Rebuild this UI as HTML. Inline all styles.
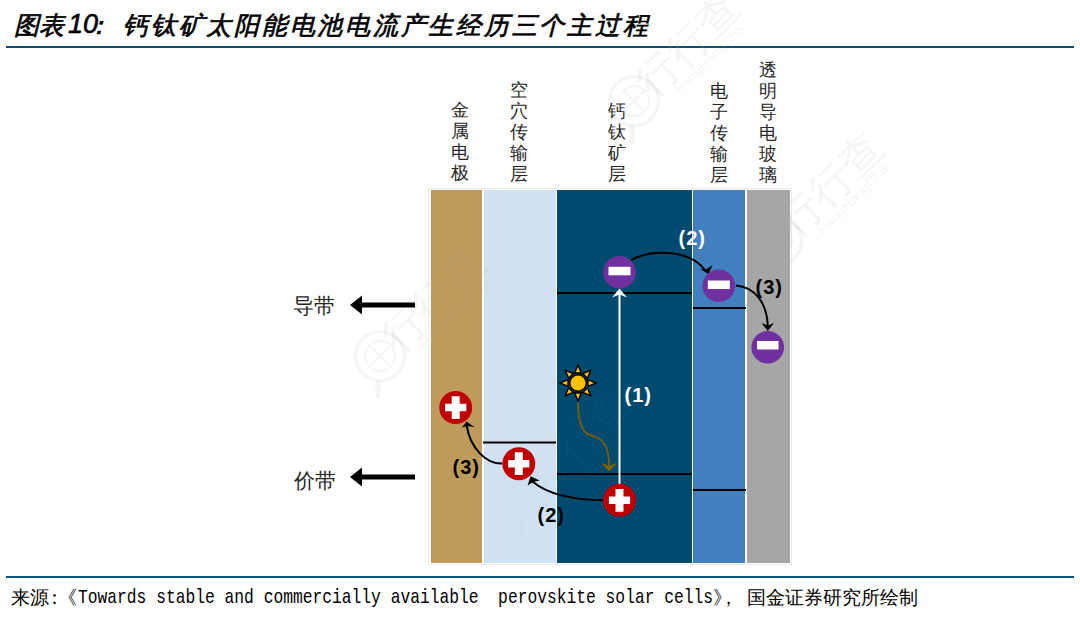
<!DOCTYPE html>
<html><head><meta charset="utf-8">
<style>
html,body{margin:0;padding:0;background:#fff;width:1080px;height:617px;overflow:hidden;position:relative;font-family:"Liberation Sans",sans-serif;}
.abs{position:absolute;white-space:nowrap;}
.tt{font-size:25px;font-weight:bold;font-style:italic;color:#000;line-height:30px;}
.hl{position:absolute;left:6px;width:1068px;height:2px;}
.ft{font-size:19px;color:#000;line-height:22px;}
.mono{white-space:pre;font-family:"Liberation Mono",monospace;font-size:20.7px;transform:scaleX(0.787);transform-origin:0 0;}
.vl{position:absolute;width:20px;font-size:18px;line-height:21px;color:#262626;text-align:center;}
.lbl{position:absolute;font-size:21px;color:#262626;white-space:nowrap;line-height:22px;}
.num{position:absolute;font-weight:bold;font-size:20px;letter-spacing:1px;white-space:nowrap;line-height:22px;}
</style></head><body>
<div class="abs tt" style="left:14px;top:10px;letter-spacing:0px;font-weight:normal;-webkit-text-stroke:0.7px #000">图表</div>
<div class="abs tt" style="left:68px;top:9px;font-weight:normal;font-size:27px;-webkit-text-stroke:0.6px #000">10</div>
<div class="abs tt" style="left:86px;top:10px;font-weight:normal;-webkit-text-stroke:0.7px #000">：</div>
<div class="abs tt" style="left:123px;top:10px;letter-spacing:2.75px;font-weight:normal;-webkit-text-stroke:0.7px #000">钙钛矿太阳能电池电流产生经历三个主过程</div>
<div class="hl" style="top:46px;background:#0D4E79"></div>
<div class="hl" style="top:576px;background:#14557F"></div>

<div class="vl" style="left:450px;top:100px">金<br>属<br>电<br>极</div>
<div class="vl" style="left:509px;top:80px">空<br>穴<br>传<br>输<br>层</div>
<div class="vl" style="left:607px;top:101px">钙<br>钛<br>矿<br>层</div>
<div class="vl" style="left:709px;top:81px">电<br>子<br>传<br>输<br>层</div>
<div class="vl" style="left:758px;top:60px">透<br>明<br>导<br>电<br>玻<br>璃</div>

<div class="lbl" style="left:293px;top:295px">导带</div>
<div class="lbl" style="left:294px;top:469.5px">价带</div>

<svg class="abs" style="left:0;top:0" width="1080" height="617" viewBox="0 0 1080 617">
  <rect x="428.5" y="188.5" width="363" height="376" fill="#fff" stroke="#ececec" stroke-width="1"/>
  <rect x="431" y="190" width="51" height="373" fill="#BE9B5A"/>
  <rect x="484" y="190" width="72" height="373" fill="#D0E2F2"/>
  <rect x="557" y="190" width="135" height="373" fill="#004A70"/>
  <rect x="693" y="190" width="52" height="373" fill="#417FBE"/>
  <rect x="747" y="190" width="43" height="373" fill="#A6A6A6"/>
  <!-- watermarks -->
  <g fill="none" stroke="rgb(170,170,170)" stroke-opacity="0.13"><g>
      <circle cx="634" cy="101" r="24.5" stroke-width="3"/>
      <circle cx="634" cy="101" r="15" stroke-width="2"/>
      <path d="M624,91 L644,111 M644,91 L624,111" stroke-width="2"/>
      <line x1="632" y1="128" x2="632" y2="141" stroke-width="5" stroke-linecap="round"/>
      <text x="0" y="0" transform="translate(690,47) rotate(-45)" text-anchor="middle" dominant-baseline="middle" font-size="42" fill="rgb(170,170,170)" fill-opacity="0.13" stroke="none" font-family="Liberation Sans, sans-serif">行行查</text>
      <text x="0" y="0" transform="translate(710,60) rotate(-45)" text-anchor="middle" dominant-baseline="middle" font-size="14" fill="rgb(170,170,170)" fill-opacity="0.13" stroke="none" font-family="Liberation Sans, sans-serif">HangHangCha</text>
    </g></g>
  <g fill="none" stroke="rgb(170,170,170)" stroke-opacity="0.13"><g transform="translate(143,140)">
      <circle cx="634" cy="101" r="24.5" stroke-width="3"/>
      <circle cx="634" cy="101" r="15" stroke-width="2"/>
      <path d="M624,91 L644,111 M644,91 L624,111" stroke-width="2"/>
      <line x1="632" y1="128" x2="632" y2="141" stroke-width="5" stroke-linecap="round"/>
      <text x="0" y="0" transform="translate(690,47) rotate(-45)" text-anchor="middle" dominant-baseline="middle" font-size="42" fill="rgb(170,170,170)" fill-opacity="0.13" stroke="none" font-family="Liberation Sans, sans-serif">行行查</text>
      <text x="0" y="0" transform="translate(710,60) rotate(-45)" text-anchor="middle" dominant-baseline="middle" font-size="14" fill="rgb(170,170,170)" fill-opacity="0.13" stroke="none" font-family="Liberation Sans, sans-serif">HangHangCha</text>
    </g></g>
  <g fill="none" stroke="rgb(170,170,170)" stroke-opacity="0.13"><g transform="translate(-254,255)">
      <circle cx="634" cy="101" r="24.5" stroke-width="3"/>
      <circle cx="634" cy="101" r="15" stroke-width="2"/>
      <path d="M624,91 L644,111 M644,91 L624,111" stroke-width="2"/>
      <line x1="632" y1="128" x2="632" y2="141" stroke-width="5" stroke-linecap="round"/>
      <text x="0" y="0" transform="translate(690,47) rotate(-45)" text-anchor="middle" dominant-baseline="middle" font-size="42" fill="rgb(170,170,170)" fill-opacity="0.13" stroke="none" font-family="Liberation Sans, sans-serif">行行查</text>
      <text x="0" y="0" transform="translate(710,60) rotate(-45)" text-anchor="middle" dominant-baseline="middle" font-size="14" fill="rgb(170,170,170)" fill-opacity="0.13" stroke="none" font-family="Liberation Sans, sans-serif">HangHangCha</text>
    </g></g>
  <g fill="none" stroke="rgb(170,170,170)" stroke-opacity="0.13"><g transform="translate(-111,395)" opacity="0.25">
      <circle cx="634" cy="101" r="24.5" stroke-width="3"/>
      <circle cx="634" cy="101" r="15" stroke-width="2"/>
      <path d="M624,91 L644,111 M644,91 L624,111" stroke-width="2"/>
      <line x1="632" y1="128" x2="632" y2="141" stroke-width="5" stroke-linecap="round"/>
      <text x="0" y="0" transform="translate(690,47) rotate(-45)" text-anchor="middle" dominant-baseline="middle" font-size="42" fill="rgb(170,170,170)" fill-opacity="0.13" stroke="none" font-family="Liberation Sans, sans-serif">行行查</text>
      <text x="0" y="0" transform="translate(710,60) rotate(-45)" text-anchor="middle" dominant-baseline="middle" font-size="14" fill="rgb(170,170,170)" fill-opacity="0.13" stroke="none" font-family="Liberation Sans, sans-serif">HangHangCha</text>
    </g></g>
  <g stroke="#000" stroke-width="2.2">
    <line x1="557" y1="293" x2="692" y2="293"/>
    <line x1="693" y1="308" x2="746" y2="308"/>
    <line x1="483" y1="442.5" x2="556" y2="442.5"/>
    <line x1="557" y1="474" x2="692" y2="474"/>
    <line x1="693" y1="490" x2="746" y2="490"/>
  </g>
  <polygon points="350,305 362,295.5 362,302.5 415,302.5 415,307.5 362,307.5 362,314.5" fill="#000"/>
  <polygon points="350,477 362,467.5 362,474.5 415,474.5 415,479.5 362,479.5 362,486.5" fill="#000"/>
  <!-- white arrow (1) -->
  <line x1="619.5" y1="484" x2="619.5" y2="294" stroke="#fff" stroke-width="2"/>
  <polygon points="619.5,288.5 612,297.5 619.5,294.5 627,297.5" fill="#fff"/>
  <!-- sun -->
  <g transform="translate(578,383)" fill="#FFC000" stroke="#000" stroke-width="1.4" stroke-linejoin="miter">
    <polygon transform="rotate(0)" points="0,-18 3.3,-10 -3.3,-10"/>
    <polygon transform="rotate(45)" points="0,-18 3.3,-10 -3.3,-10"/>
    <polygon transform="rotate(90)" points="0,-18 3.3,-10 -3.3,-10"/>
    <polygon transform="rotate(135)" points="0,-18 3.3,-10 -3.3,-10"/>
    <polygon transform="rotate(180)" points="0,-18 3.3,-10 -3.3,-10"/>
    <polygon transform="rotate(225)" points="0,-18 3.3,-10 -3.3,-10"/>
    <polygon transform="rotate(270)" points="0,-18 3.3,-10 -3.3,-10"/>
    <polygon transform="rotate(315)" points="0,-18 3.3,-10 -3.3,-10"/>
    <circle r="8.3"/>
  </g>
  <!-- olive curve -->
  <path d="M578,402 C578,425 583,434 593,436 C604,439 609,448 609.2,466" fill="none" stroke="#7F6000" stroke-width="1.8"/>
  <polygon points="609.2,471 602.2,463.5 609.2,466.5 616,463.5" fill="#7F6000" stroke="#7F6000" stroke-width="1"/>
  <!-- black arrows -->
  <g fill="none" stroke="#000" stroke-width="2">
    <path d="M631,260 C650,250 688,248 705,270"/>
    <path d="M736,285.5 C755,287 767,303 767.8,326"/>
    <path d="M603,500.3 C582,500 551,497 532.5,481.5"/>
    <path d="M502,463.5 C486,464 470,448 466.6,425"/>
  </g>
  <g fill="#000">
    <polygon points="708.5,274 700,269 706,269.5 712.5,265"/>
    <polygon points="767.8,331 761.5,323 767.8,325.5 774,323"/>
    <polygon points="530.5,476.3 539.6,480.5 533,482 527.6,485.6"/>
    <polygon points="466.6,421.5 474.5,427.2 468,426 462,427.5"/>
  </g>
  <!-- charges -->
  <g fill="#7030A0">
    <circle cx="619.5" cy="272.3" r="16.3"/>
    <circle cx="718.8" cy="285.8" r="16.3"/>
    <circle cx="767.7" cy="347.3" r="16.3"/>
  </g>
  <g fill="#fff">
    <rect x="608.5" y="266.8" width="22" height="8.5"/>
    <rect x="707.8" y="280.5" width="22" height="8.5"/>
    <rect x="757" y="341" width="21.5" height="8.5"/>
  </g>
  <g fill="#C00000">
    <circle cx="455.7" cy="407.6" r="16.5"/>
    <circle cx="518.8" cy="463.7" r="16.5"/>
    <circle cx="619.5" cy="500.3" r="16.5"/>
  </g>
  <g fill="#fff">
    <path d="M451.7,396.25 h8 v7.6 h6.6 v7.5 h-6.6 v7.6 h-8 v-7.6 h-6.6 v-7.5 h6.6 z"/>
    <path d="M514.8,452.35 h8 v7.6 h6.6 v7.5 h-6.6 v7.6 h-8 v-7.6 h-6.6 v-7.5 h6.6 z"/>
    <path d="M615.5,488.95 h8 v7.6 h6.6 v7.5 h-6.6 v7.6 h-8 v-7.6 h-6.6 v-7.5 h6.6 z"/>
  </g>
</svg>

<div class="num" style="left:678.5px;top:227px;color:#fff">(2)</div>
<div class="num" style="left:624.5px;top:384px;color:#fff">(1)</div>
<div class="num" style="left:755.5px;top:275.5px;color:#000">(3)</div>
<div class="num" style="left:452.5px;top:456px;color:#000">(3)</div>
<div class="num" style="left:537.5px;top:503.5px;color:#000">(2)</div>

<div class="abs ft" style="left:10.5px;top:586.5px">来源</div>
<div class="abs ft" style="left:44.5px;top:586.5px">：</div>
<div class="abs ft" style="left:58px;top:586.5px">《</div>
<div class="abs ft mono" style="left:78px;top:587px">Towards stable and commercially available  perovskite solar cells</div>
<div class="abs ft" style="left:713px;top:586.5px">》</div>
<div class="abs ft" style="left:718.5px;top:586.5px">，</div>
<div class="abs ft" style="left:747px;top:586.5px">国金证券研究所绘制</div>
</body></html>
